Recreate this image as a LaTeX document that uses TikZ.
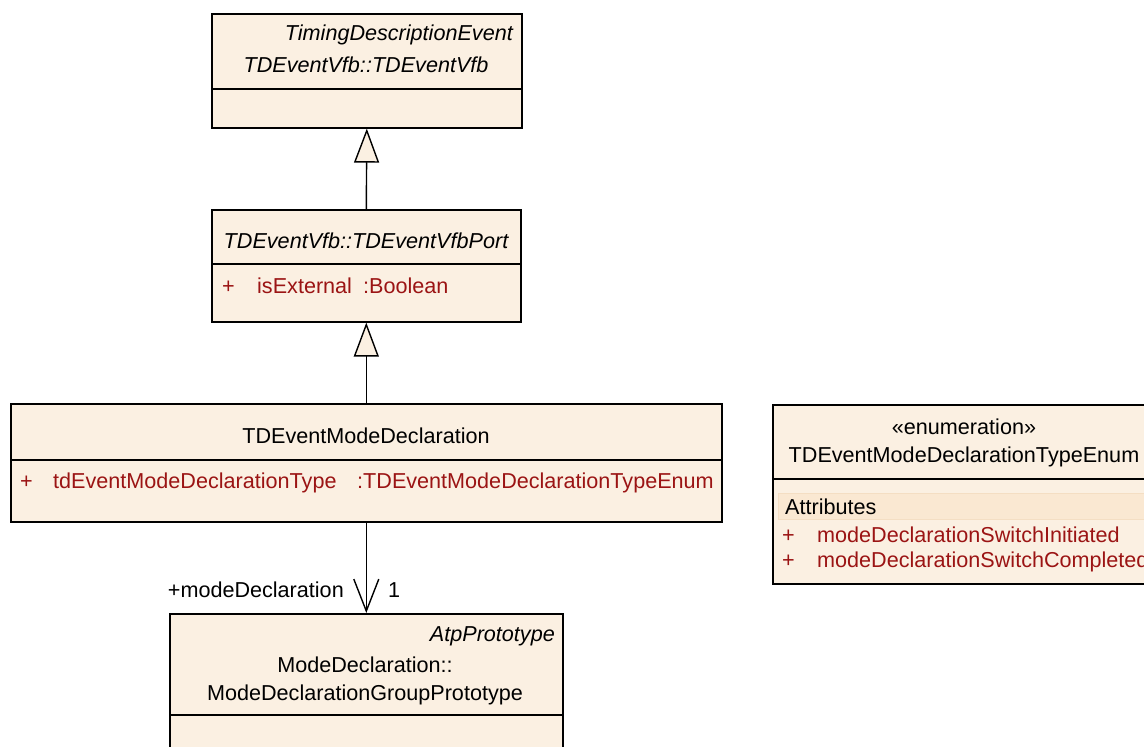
\documentclass[tikz,border=0pt]{standalone}
\usepackage{fontspec}
\setmainfont{Liberation Sans}
\usetikzlibrary{arrows.meta}
\definecolor{umlfill}{RGB}{251,240,226}
\definecolor{umlred}{RGB}{155,20,20}
\definecolor{bandfill}{RGB}{250,232,210}
\definecolor{bandline}{RGB}{244,222,195}
\begin{document}
\begin{tikzpicture}[x=1pt,y=-1pt,
  font=\fontsize{21.6}{25}\selectfont,
  umlbox/.style={draw=black,fill=umlfill,line width=1.6pt,inner sep=0pt,anchor=north west},
  divider/.style={draw=black,line width=1.6pt},
  txt/.style={inner sep=0pt,text=black},
  ital/.style={inner sep=0pt,text=black,font=\fontsize{21.6}{25}\selectfont\itshape},
  attr/.style={inner sep=0pt,text=umlred,anchor=base west},
  gen/.style={draw=black,line width=1.4pt,-{Triangle[length=34pt,width=25pt,fill=umlfill]}},
  assoc/.style={draw=black,line width=1.4pt,-{Straight Barb[length=32pt,width=25pt]}}]
\useasboundingbox (0,0) rectangle (1144,747);
\clip (0,0) rectangle (1144,747);
\fill[white] (0,0) rectangle (1144,747);

% Box 1
\node[umlbox,minimum width=310pt,minimum height=114pt] (b1) at (211,13) {};
\draw[divider] (b1.west |- 0,89) -- (b1.east |- 0,89);
\node[ital,anchor=base east] (b1st) at (513,40) {TimingDescriptionEvent};
\node[ital,anchor=base] (b1name) at (366,72) {TDEventVfb::TDEventVfb};

% Box 2
\node[umlbox,minimum width=309pt,minimum height=112pt] (b2) at (211,209) {};
\draw[divider] (b2.west |- 0,264) -- (b2.east |- 0,264);
\node[ital,anchor=base] (b2name) at (366,248) {TDEventVfb::TDEventVfbPort};
\node[attr] (b2p) at (222,293) {+};
\node[attr] (b2a) at (257,293) {isExternal};
\node[attr] (b2t) at (363,293) {:Boolean};

% Box 3
\node[umlbox,minimum width=711pt,minimum height=118pt] (b3) at (10,403) {};
\draw[divider] (b3.west |- 0,460) -- (b3.east |- 0,460);
\node[txt,anchor=base] (b3name) at (366,443) {TDEventModeDeclaration};
\node[attr] (b3p) at (20,488) {+};
\node[attr] (b3a) at (53,488) {tdEventModeDeclarationType};
\node[attr] (b3t) at (357,488) {:TDEventModeDeclarationTypeEnum};

% Box 4 (enumeration)
\node[umlbox,minimum width=382pt,minimum height=179pt] (b4) at (772,404) {};
\draw[divider] (b4.west |- 0,479) -- (b4.east |- 0,479);
\node[txt,anchor=base] (b4st) at (964,434) {«enumeration»};
\node[txt,anchor=base] (b4name) at (964,462) {TDEventModeDeclarationTypeEnum};
\node[draw=bandline,fill=bandfill,line width=1pt,inner sep=0pt,anchor=north west,minimum width=380pt,minimum height=26pt] (band) at (778,493) {};
\node[txt,anchor=base west] (b4att) at (785,514) {Attributes};
\node[attr] (b4p1) at (782,542) {+};
\node[attr] (b4a1) at (817,542) {modeDeclarationSwitchInitiated};
\node[attr] (b4p2) at (782,567) {+};
\node[attr] (b4a2) at (817,567) {modeDeclarationSwitchCompleted};

% Box 5
\node[umlbox,minimum width=393pt,minimum height=160pt] (b5) at (169,613) {};
\draw[divider] (b5.west |- 0,715) -- (b5.east |- 0,715);
\node[ital,anchor=base east] (b5st) at (555,641) {AtpPrototype};
\node[txt,anchor=base] (b5n1) at (365,672) {ModeDeclaration::};
\node[txt,anchor=base] (b5n2) at (365,700) {ModeDeclarationGroupPrototype};

% Connectors
\draw[gen] (b2.north) -- (b1.south);
\draw[gen] (b3.north) -- (b2.south);
\draw[assoc] (b3.south) -- (b5.north);
\node[txt,anchor=base east] (role) at (344,597) {+modeDeclaration};
\node[txt,anchor=base west] (mult) at (388,597) {1};
\end{tikzpicture}
\end{document}
